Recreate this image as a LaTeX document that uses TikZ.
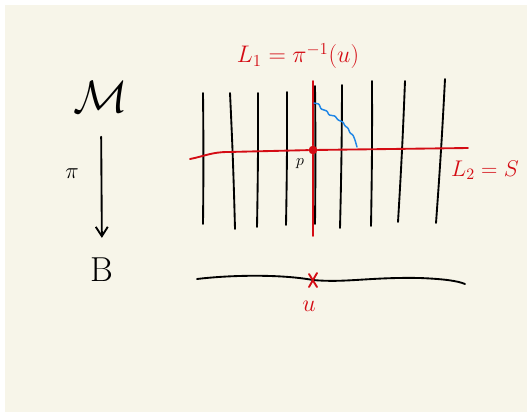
\documentclass[tikz,border=0pt]{standalone}
\usepackage{fix-cm}
\usepackage{amsmath}
\usetikzlibrary{arrows.meta}
\definecolor{paper}{RGB}{247,245,233}
\definecolor{inkred}{RGB}{212,12,20}
\definecolor{inkblue}{RGB}{32,134,230}
\tikzset{
	ink/.style={line width=1.4pt, line cap=round, line join=round},
	fibre/.style={ink, black},
	redink/.style={ink, inkred},
	redlabel/.style={text=inkred, inner sep=0pt},
	blacklabel/.style={text=black, inner sep=0pt},
}
\begin{document}
\begin{tikzpicture}[x=0.75pt, y=-0.75pt]
				\useasboundingbox (0,0) rectangle (531,412);
				\fill[white] (0,0) rectangle (531,412);
				\fill[paper] (5,5) rectangle (527,412);

				% Fibres over B: xtop/ytop/xbottom/ybottom
				\foreach \xt/\yt/\xb/\yb in {203/93/203/224, 230/93/235/229, 258/93/257/227,
						287/92/286/225, 315/86/315/224, 342/85/340/228, 372/81/371/226,
						405/81/398/222, 445/79/436/223} {
					\draw[fibre] (\xt,\yt) to[bend left=0.6] (\xb,\yb);
				}

				% L_1 = fibre through p
				\node[circle, fill=inkred, inner sep=2.3pt] (pt) at (313,150) {};
				\draw[redink] (313,81) -- (pt) -- (313,236);
				% L_2 = section S
				\draw[redink] (190,159) .. controls (205,156) and (212,152) .. (228,152) -- (pt) -- (468,148);
				% wavy path
				\draw[ink, line width=1.1pt, inkblue, rounded corners=0.6pt]
					(314,103) -- (319,104) -- (321,109) -- (327,111) -- (329,115) -- (335,116)
					-- (338,120) -- (343,122) -- (345,126) -- (348,128) -- (350,133)
					-- (353,135) -- (355,140) -- (357,147);

				% Base B
				\draw[fibre] (197,279) .. controls (230,275) and (280,274) .. (313,280)
					.. controls (345,283) and (370,277) .. (420,278)
					.. controls (445,279) and (458,281) .. (465,284);
				\draw[redink] (309,274) -- (317,287);
				\draw[redink] (317,273) -- (309,287);

				% Labels
				\node[redlabel, font=\fontsize{18}{21}\selectfont] (Lone) at (298,56) {$L_1=\pi^{-1}(u)$};
				\node[redlabel, font=\fontsize{17}{20}\selectfont] (Ltwo) at (485,170) {$L_2=S$};
				\node[redlabel, font=\fontsize{18}{20}\selectfont] (u) at (309,306) {$u$};
				\node[blacklabel, font=\fontsize{12}{14}\selectfont] (plabel) at (300,164) {$p$};
				\node[blacklabel, font=\fontsize{34}{40}\selectfont] (M) at (101,97) {$\mathcal{M}$};
				\node[blacklabel, font=\fontsize{26}{30}\selectfont] (B) at (102,270) {B};
				\node[blacklabel, font=\fontsize{17}{20}\selectfont] (piL) at (72,174) {$\pi$};

				% Projection
				\draw[ink, -{Straight Barb[length=7pt, width=9pt]}, shorten <=18pt, shorten >=15pt] (M.south) -- (B.north);

		\end{tikzpicture}
\end{document}
